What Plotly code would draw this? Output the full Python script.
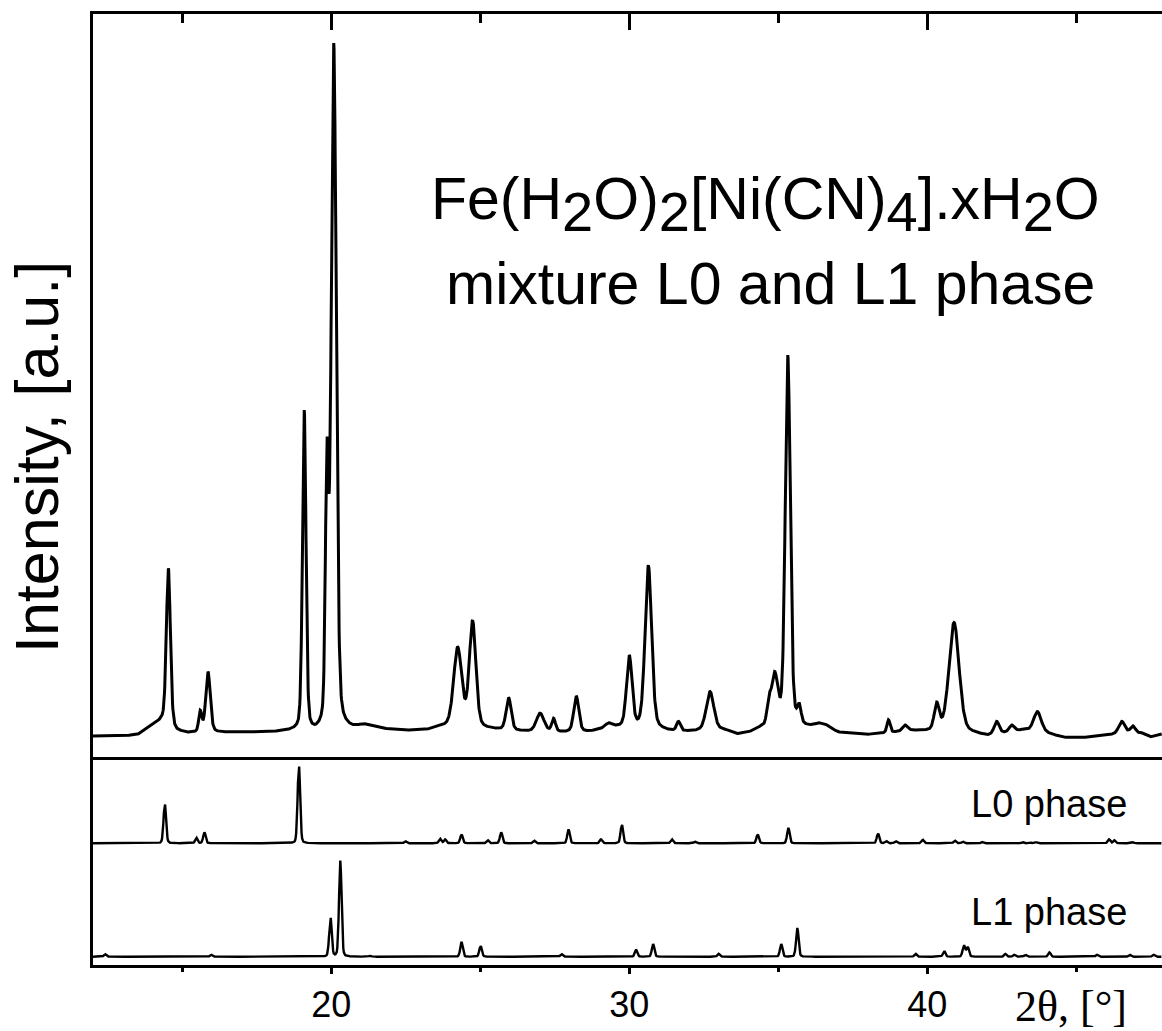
import numpy as np
import plotly.graph_objects as go

# ---- measured powder pattern: peak list (2theta, apex intensity, FWHM) ----
exp_pos = [14.53, 15.60, 15.86, 19.09, 19.85, 20.08, 24.24, 24.74, 25.95, 27.01,
           27.46, 28.22, 29.30, 30.00, 30.64, 31.65, 32.71, 34.68, 34.88, 35.32,
           35.70, 36.35, 38.70, 39.26, 40.32, 40.90, 42.33, 42.84, 43.70, 46.53,
           46.90]
exp_height = [254, 63, 115, 467, 429, 961, 148, 184, 80, 59,
              52, 82, 46, 137, 258, 48, 88, 84, 115, 541,
              73, 46, 50, 43, 74, 181, 48, 43, 61, 48,
              42]
exp_fwhm = [0.16, 0.12, 0.18, 0.14, 0.12, 0.20, 0.32, 0.26, 0.20, 0.30,
            0.15, 0.20, 0.25, 0.22, 0.26, 0.15, 0.30, 0.15, 0.25, 0.20,
            0.15, 0.30, 0.12, 0.20, 0.20, 0.40, 0.20, 0.20, 0.30, 0.25,
            0.20]

# background level of the measured pattern
bg_pos = [12.0, 13.0, 13.5, 13.9, 14.3, 14.8, 15.2, 16.3, 18.0, 18.7, 19.45,
          20.7, 21.1, 21.4, 21.8, 22.5, 23.2, 23.7, 25.3, 26.5, 27.8, 28.7,
          29.4, 31.0, 31.4, 32.0, 33.2, 33.6, 34.0, 34.4, 36.2, 36.6, 37.0,
          38.0, 38.9, 39.5, 40.0, 41.6, 42.0, 43.2, 44.0, 44.6, 45.2, 45.8,
          46.2, 47.2, 47.5, 47.9]
bg_level = [28, 28, 30, 40, 48, 34, 32, 33, 33, 34, 30,
            36, 42, 40, 37, 35, 36, 40, 37, 34, 33, 34,
            40, 36, 34, 34, 36, 30, 32, 38, 40, 42, 33,
            30, 33, 35, 34, 31, 28, 36, 32, 26, 26, 28,
            30, 32, 27, 31]

# ---- calculated patterns (relative intensity) ----
l0_pos = [14.41, 15.47, 15.74, 18.91, 22.49, 23.65, 23.82, 24.37, 25.25, 25.70,
          26.81, 27.96, 29.05, 29.75, 31.43, 32.21, 34.31, 35.34, 38.35, 38.62,
          38.95, 39.85, 40.93, 41.20, 41.85, 43.20, 43.45, 43.65, 46.10, 46.28,
          46.90]
l0_height = [50.6, 7, 14, 100, 2.5, 5.8, 5, 11.4, 3.8, 14,
             3.3, 17.7, 5, 24, 5, 2, 11.4, 19.6, 12.7, 3,
             2.5, 4.4, 3.2, 2, 1.5, 1.5, 1.5, 1.5, 5, 3.8,
             1.5]

l1_pos = [12.41, 15.97, 19.97, 20.30, 21.30, 24.37, 25.01, 27.73, 30.23, 30.80,
          33.00, 35.10, 35.64, 39.61, 40.57, 41.23, 41.36, 42.62, 42.92, 43.30,
          44.10, 45.70, 46.80, 47.60]
l1_height = [2.6, 2, 41.7, 100, 1, 15, 11.5, 2.6, 7, 13.2,
             3, 13.2, 30, 3, 6, 12.2, 10.4, 3, 2, 2,
             4.5, 2, 2, 2]

major_ticks = [20, 30, 40]
minor_ticks = [15, 25, 35, 45]

X_MIN, X_MAX = 12.0, 47.88


def pseudo_voigt(x, c, w, eta):
    d = (np.asarray(x) - c) / (w / 2.0)
    return eta / (1.0 + d ** 2) + (1.0 - eta) * np.exp(-np.log(2.0) * d ** 2)


def build_profile(x, pos, apex, fwhm, eta, base_at):
    """Sum of peaks whose maxima reach the listed apex intensities."""
    pos = np.asarray(pos, float)
    fwhm = np.asarray(fwhm, float)
    a = np.array([[pseudo_voigt(pi, pj, wj, eta) for pj, wj in zip(pos, fwhm)]
                  for pi in pos])
    amp = np.linalg.solve(a, np.asarray(apex, float) - base_at(pos))
    amp = np.clip(amp, 0, None)
    y = base_at(x)
    for c, w, h in zip(pos, fwhm, amp):
        y = y + h * pseudo_voigt(x, c, w, eta)
    return y


def background(x):
    return np.interp(x, bg_pos, bg_level)


def zero(x):
    return np.zeros_like(np.asarray(x, float))


x_exp = np.arange(X_MIN, X_MAX, 0.01)
y_exp = build_profile(x_exp, exp_pos, exp_height, exp_fwhm, 0.3, background)

x_calc = np.arange(X_MIN, X_MAX, 0.02)
y_l0 = build_profile(x_calc, l0_pos, l0_height, [0.1] * len(l0_pos), 0.2, zero)
y_l1 = build_profile(x_calc, l1_pos, l1_height, [0.1] * len(l1_pos), 0.2, zero)

# ---- figure ----
W, H = 1162, 1031
ML, MR, MT, MB = 93, 0, 14, 66
PLOT_W = W - ML - MR
PLOT_H = H - MT - MB


def px_x(px):
    return (px - ML) / PLOT_W


def px_y(py):
    return (H - MB - py) / PLOT_H


FONT = "Liberation Sans, Arial, sans-serif"
LW = 3

fig = go.Figure()
fig.add_trace(go.Scatter(x=x_exp, y=y_exp, mode="lines", xaxis="x", yaxis="y",
                         line=dict(color="black", width=3), hoverinfo="skip"))
fig.add_trace(go.Scatter(x=x_calc, y=y_l0, mode="lines", xaxis="x2", yaxis="y2",
                         line=dict(color="black", width=2.4), hoverinfo="skip"))
fig.add_trace(go.Scatter(x=x_calc, y=y_l1, mode="lines", xaxis="x3", yaxis="y3",
                         line=dict(color="black", width=2.4), hoverinfo="skip"))

dom_top = [px_y(757), 1.0]
dom_l0 = [px_y(850), px_y(757)]
dom_l1 = [0.0, px_y(850)]

common_x = dict(range=[X_MIN, X_MAX], showgrid=False, zeroline=False,
                domain=[0, 1])
yaxis_style = dict(showgrid=False, zeroline=False, showticklabels=False,
                   ticks="", showline=True, linecolor="black", linewidth=LW,
                   fixedrange=True)

fig.update_layout(
    width=W, height=H, autosize=False,
    margin=dict(l=ML, r=MR, t=MT, b=MB, pad=0),
    paper_bgcolor="white", plot_bgcolor="white",
    showlegend=False,
    font=dict(family=FONT, color="black"),
    xaxis=dict(**common_x, anchor="y", side="top", ticks="inside", ticklen=16,
               tickwidth=LW, tickcolor="black", tickmode="array",
               tickvals=major_ticks,
               minor=dict(ticks="inside", ticklen=9, tickwidth=LW,
                          tickcolor="black", tickmode="array",
                          tickvals=minor_ticks),
               showticklabels=False, showline=True, linecolor="black",
               linewidth=LW, mirror=True),
    xaxis2=dict(**common_x, anchor="y2", matches="x", visible=False),
    xaxis3=dict(**common_x, anchor="y3", matches="x", side="bottom",
                ticks="outside", ticklen=6, tickwidth=LW, tickcolor="black",
                tickmode="array", tickvals=major_ticks,
                ticktext=[str(v) for v in major_ticks],
                minor=dict(ticks="outside", ticklen=4, tickwidth=LW,
                           tickcolor="black", tickmode="array",
                           tickvals=minor_ticks),
                showline=True, linecolor="black", linewidth=LW,
                tickfont=dict(family=FONT, size=36, color="black")),
    yaxis=dict(**yaxis_style, domain=dom_top, range=[0, 1000], anchor="x"),
    yaxis2=dict(**yaxis_style, domain=dom_l0, range=[-8.5, 109.2], anchor="x2"),
    yaxis3=dict(**yaxis_style, domain=dom_l1, range=[-8.6, 111], anchor="x3"),
)

TITLE_SIZE = 59
sub = "<sub><span style='font-size:%dpx'>%%s</span></sub>" % int(TITLE_SIZE * 0.95)
title_line1 = ("Fe(H" + sub % "2" + "O)" + sub % "2" + "[Ni(CN)" + sub % "4"
               + "].xH" + sub % "2" + "O")

annotations = [
    dict(text=title_line1, x=px_x(765), y=px_y(205),
         font=dict(size=TITLE_SIZE)),
    dict(text="mixture L0 and L1 phase", x=px_x(770), y=px_y(284),
         font=dict(size=TITLE_SIZE)),
    dict(text="L0 phase", x=px_x(1129), y=px_y(804), xanchor="right",
         font=dict(size=38)),
    dict(text="L1 phase", x=px_x(1129), y=px_y(912), xanchor="right",
         font=dict(size=38)),
    dict(text="Intensity, [a.u.]", x=px_x(37), y=px_y(457), textangle=-90,
         font=dict(size=61)),
    dict(text="2\u03b8, [\u00b0]", x=px_x(1071), y=px_y(1006),
         font=dict(size=44, family="Liberation Serif, Times New Roman, serif")),
]
for a in annotations:
    a.setdefault("xanchor", "center")
    a.update(xref="paper", yref="paper", yanchor="middle", showarrow=False)
    a["font"].setdefault("family", FONT)
    a["font"].setdefault("color", "black")
fig.update_layout(annotations=annotations)

fig.write_html("out.html", include_plotlyjs=True,
               config={"displayModeBar": False, "staticPlot": True})
